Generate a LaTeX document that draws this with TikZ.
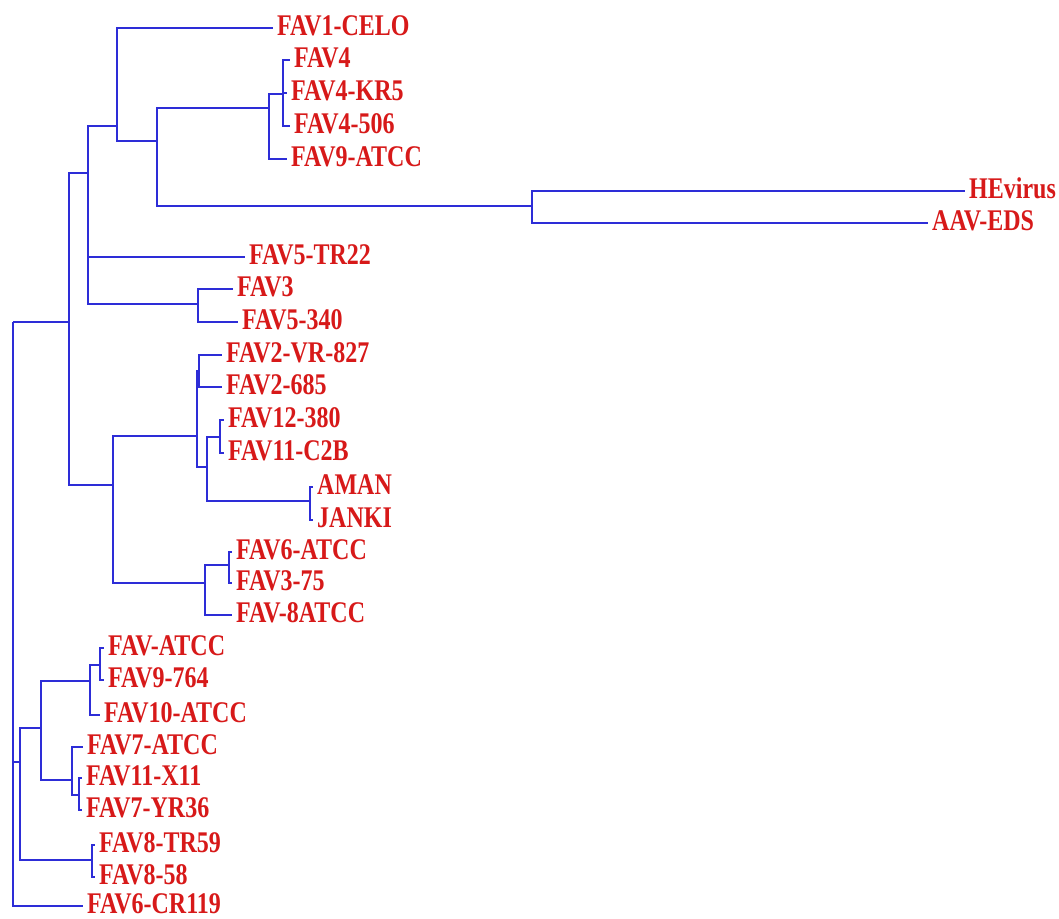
\documentclass[tikz,border=0pt]{standalone}
\usepackage{fontspec}
\newfontfamily\labfont[FakeStretch=0.8]{Liberation Serif}
\definecolor{treeblue}{RGB}{45,45,215}
\definecolor{labred}{RGB}{215,25,25}
\tikzset{
  leaf/.style={anchor=west, inner xsep=4pt, inner ysep=0pt, text height=15pt, text depth=0pt,
    font={\labfont\bfseries\fontsize{30pt}{30pt}\selectfont}, text=labred},
  branch/.style={draw=treeblue, line width=1.9pt, line join=miter}
}
\begin{document}
\begin{tikzpicture}[x=1pt,y=-1pt]
\useasboundingbox (0,0) rectangle (1059,918);
% internal nodes (x, y of join with parent)
\coordinate (R) at (13,322);
\coordinate (U) at (69,322);
\coordinate (M) at (88,173);
\coordinate (A) at (117,126);
\coordinate (B) at (157,141);
\coordinate (C) at (269,108);
\coordinate (D) at (283,94);
\coordinate (HE) at (532,206);
\coordinate (F35) at (198,304);
\coordinate (N) at (113,485);
\coordinate (E) at (197,436);
\coordinate (P2) at (199,371);
\coordinate (E2) at (207,467);
\coordinate (P12) at (220,437);
\coordinate (PA) at (310,501);
\coordinate (F) at (205,583);
\coordinate (P6) at (229,565);
\coordinate (L) at (20,762);
\coordinate (H) at (41,728);
\coordinate (I) at (90,681);
\coordinate (P9) at (100,665);
\coordinate (J) at (72,780);
\coordinate (P11) at (79,795);
\coordinate (P8) at (92,860);
% leaves
\node[leaf] (celo) at (273,28) {FAV1-CELO};
\node[leaf] (fav4) at (290,60) {FAV4};
\node[leaf] (kr5) at (287,93) {FAV4-KR5};
\node[leaf] (f506) at (290,126) {FAV4-506};
\node[leaf] (f9atcc) at (287,159) {FAV9-ATCC};
\node[leaf] (hev) at (965,191) {HEvirus};
\node[leaf] (aav) at (928,223) {AAV-EDS};
\node[leaf] (tr22) at (245,257) {FAV5-TR22};
\node[leaf] (fav3) at (233,289) {FAV3};
\node[leaf] (f340) at (238,322) {FAV5-340};
\node[leaf] (vr827) at (222,355) {FAV2-VR-827};
\node[leaf] (f685) at (222,387) {FAV2-685};
\node[leaf] (f380) at (224,420) {FAV12-380};
\node[leaf] (c2b) at (224,453) {FAV11-C2B};
\node[leaf] (aman) at (313,487) {AMAN};
\node[leaf] (janki) at (313,520) {JANKI};
\node[leaf] (f6atcc) at (232,552) {FAV6-ATCC};
\node[leaf] (f375) at (232,583) {FAV3-75};
\node[leaf] (f8atcc) at (232,615) {FAV-8ATCC};
\node[leaf] (fatcc) at (104,648) {FAV-ATCC};
\node[leaf] (f764) at (104,680) {FAV9-764};
\node[leaf] (f10atcc) at (100,715) {FAV10-ATCC};
\node[leaf] (f7atcc) at (83,747) {FAV7-ATCC};
\node[leaf] (x11) at (82,778) {FAV11-X11};
\node[leaf] (yr36) at (82,810) {FAV7-YR36};
\node[leaf] (tr59) at (95,845) {FAV8-TR59};
\node[leaf] (f858) at (95,877) {FAV8-58};
\node[leaf] (cr119) at (83,906) {FAV6-CR119};
% branches
\draw[branch] (R) |- (U);
\draw[branch] (R) |- (L);
\draw[branch] (R) |- (cr119.west);
\draw[branch] (U) |- (M);
\draw[branch] (U) |- (N);
\draw[branch] (M) |- (A);
\draw[branch] (M) |- (tr22.west);
\draw[branch] (M) |- (F35);
\draw[branch] (A) |- (celo.west);
\draw[branch] (A) |- (B);
\draw[branch] (B) |- (C);
\draw[branch] (B) |- (HE);
\draw[branch] (C) |- (D);
\draw[branch] (C) |- (f9atcc.west);
\draw[branch] (D) |- (fav4.west);
\draw[branch] (D) |- (kr5.west);
\draw[branch] (D) |- (f506.west);
\draw[branch] (HE) |- (hev.west);
\draw[branch] (HE) |- (aav.west);
\draw[branch] (F35) |- (fav3.west);
\draw[branch] (F35) |- (f340.west);
\draw[branch] (N) |- (E);
\draw[branch] (N) |- (F);
\draw[branch] (E) |- (P2);
\draw[branch] (E) |- (E2);
\draw[branch] (P2) |- (vr827.west);
\draw[branch] (P2) |- (f685.west);
\draw[branch] (E2) |- (P12);
\draw[branch] (E2) |- (PA);
\draw[branch] (P12) |- (f380.west);
\draw[branch] (P12) |- (c2b.west);
\draw[branch] (PA) |- (aman.west);
\draw[branch] (PA) |- (janki.west);
\draw[branch] (F) |- (P6);
\draw[branch] (F) |- (f8atcc.west);
\draw[branch] (P6) |- (f6atcc.west);
\draw[branch] (P6) |- (f375.west);
\draw[branch] (L) |- (H);
\draw[branch] (L) |- (P8);
\draw[branch] (H) |- (I);
\draw[branch] (H) |- (J);
\draw[branch] (I) |- (P9);
\draw[branch] (I) |- (f10atcc.west);
\draw[branch] (P9) |- (fatcc.west);
\draw[branch] (P9) |- (f764.west);
\draw[branch] (J) |- (f7atcc.west);
\draw[branch] (J) |- (P11);
\draw[branch] (P11) |- (x11.west);
\draw[branch] (P11) |- (yr36.west);
\draw[branch] (P8) |- (tr59.west);
\draw[branch] (P8) |- (f858.west);
\end{tikzpicture}
\end{document}
